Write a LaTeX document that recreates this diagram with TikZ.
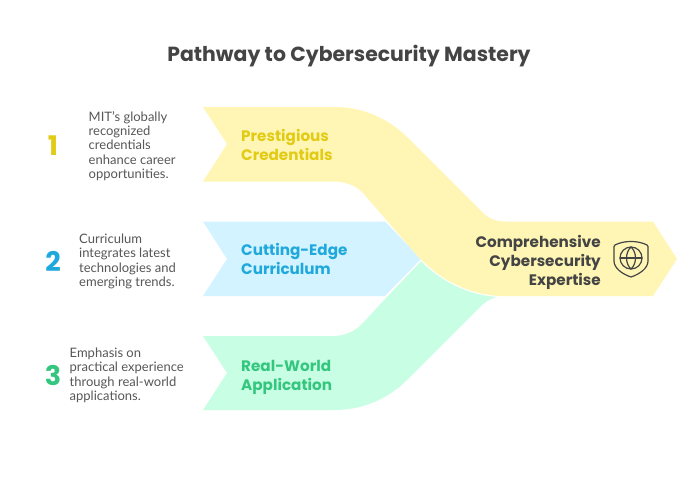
\documentclass[tikz,border=0pt]{standalone}
\usepackage{fontspec}
\setmainfont{Lato}
\newfontfamily\headfont{Poppins}[BoldFont={Poppins Bold}]
\definecolor{ink}{HTML}{444444}
\definecolor{yfill}{HTML}{FFF6B5}
\definecolor{bfill}{HTML}{D2F3FF}
\definecolor{gfill}{HTML}{C8FFE4}
\definecolor{ytext}{HTML}{E2CB14}
\definecolor{btext}{HTML}{1FA8DC}
\definecolor{gtext}{HTML}{34C67F}
\tikzset{
  titletext/.style={font=\headfont\bfseries\fontsize{20.4}{24}\selectfont,text=ink,inner sep=0pt},
  labeltext/.style={font=\headfont\bfseries\fontsize{15.2}{19}\selectfont,align=left,anchor=west,inner sep=0pt},
  bodytext/.style={font=\fontsize{13}{14.3}\selectfont,text=ink!90,align=left,anchor=west,inner sep=0pt},
  numtext/.style={font=\headfont\bfseries\fontsize{27}{30}\selectfont,inner sep=0pt},
  iconline/.style={draw=ink,line width=1.2pt,line cap=round,line join=round,fill=none}
}
\begin{document}
\begin{tikzpicture}[x=1pt,y=-1pt]
\useasboundingbox (0,0) rectangle (700,479);
\fill[white] (0,0) rectangle (700,479);
% green band
\fill[gfill] (203,336) -- (333,336) .. controls (344,336) and (354,332) .. (362,324)
  -- (386,298) -- (421,261) .. controls (440,281) and (468,294) .. (498,297)
  .. controls (490,298) and (485,302) .. (479,308)
  -- (407,380) .. controls (388,399) and (362,410) .. (335,410)
  -- (203,410) -- (227,373) -- cycle;
% blue band
\fill[bfill] (203,221.5) -- (385,221.5) -- (421,259) -- (385,296) -- (203,296) -- (227,259) -- cycle;
% yellow band
\fill[yfill] (203,107) -- (335,107) .. controls (362,107) and (388,118) .. (407,137)
  -- (483,213) .. controls (489,219) and (497,221.5) .. (505,221.5)
  -- (653,221.5) -- (677,259) -- (653,296) -- (500,296)
  .. controls (470,296) and (442,282) .. (421,260)
  -- (363,193) .. controls (355,185) and (345,181.5) .. (333,181.5)
  -- (203,181.5) -- (227,144) -- cycle;
\draw[white,line width=1pt] (386,296.5) -- (421,260) .. controls (442,282) and (470,295) .. (500,296.6);
\node[titletext] (title) at (349,56) {Pathway to Cybersecurity Mastery};
\node[labeltext,text=ytext] (l1) at (241,147.5) {\strut Prestigious\\Credentials\strut};
\node[labeltext,text=btext] (l2) at (241,261.5) {\strut Cutting-Edge\\Curriculum\strut};
\node[labeltext,text=gtext] (l3) at (241,377) {\strut Real-World\\Application\strut};
\node[labeltext,text=ink,align=right,anchor=east] (l4) at (601,262.5) {\strut Comprehensive\\Cybersecurity\\Expertise\strut};
\node[numtext,text=ytext] (n1) at (53,146) {1};
\node[numtext,text=btext] (n2) at (53,261) {2};
\node[numtext,text=gtext] (n3) at (53,375) {3};
\node[bodytext] (d1) at (88.5,147) {\strut MIT's globally\\recognized\\credentials\\enhance career\\opportunities.\strut};
\node[bodytext] (d2) at (79,262) {\strut Curriculum\\integrates latest\\technologies and\\emerging trends.\strut};
\node[bodytext] (d3) at (69.5,376) {\strut Emphasis on\\practical experience\\through real-world\\applications.\strut};
% shield icon
\draw[iconline] (615,245) .. controls (624,240.3) and (638,240.3) .. (647,245)
  -- (648,246.5) -- (648,261) .. controls (648,268) and (640,274) .. (631,277)
  .. controls (622,274) and (614,268) .. (614,261) -- (614,246.5) -- cycle;
\draw[iconline] (631,258) circle (11);
\draw[iconline] (620,258) -- (642,258);
\draw[iconline] (631,247) .. controls (625,252.5) and (625,263.5) .. (631,269);
\draw[iconline] (631,247) .. controls (637,252.5) and (637,263.5) .. (631,269);
\end{tikzpicture}
\end{document}
